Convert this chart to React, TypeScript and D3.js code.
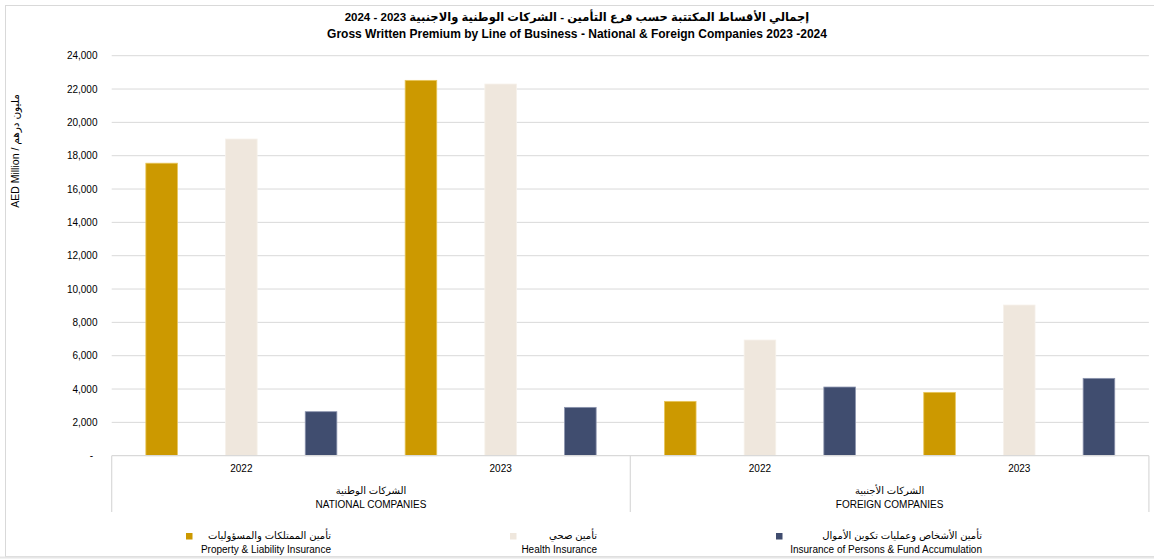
import React from "react";
import * as d3 from "d3";

const years = ["2022", "2023", "2022", "2023"];
const groupsAr = ["الشركات الوطنية", "الشركات الأجنبية"];
const groupsEn = ["NATIONAL COMPANIES", "FOREIGN COMPANIES"];
const seriesKeys = ["property", "health", "persons"];
const seriesAr = ["تأمين الممتلكات والمسؤوليات", "تأمين صحي", "تأمين الأشخاص وعمليات تكوين الأموال"];
const seriesEn = ["Property & Liability Insurance", "Health Insurance", "Insurance of Persons & Fund Accumulation"];
const property = [17550, 22520, 3260, 3800];
const health = [19000, 22300, 6940, 9040];
const persons = [2640, 2900, 4120, 4640];
const yTicks = [0, 2000, 4000, 6000, 8000, 10000, 12000, 14000, 16000, 18000, 20000, 22000, 24000];

const colors = ["#CC9900", "#EFE7DD", "#404D6F"];
const strokes = ["#E8C65A", "#F6F1EA", "#8A93AD"];
const FONT = "'Liberation Sans', 'DejaVu Sans', Arial, sans-serif";

export default function App() {
  const W = 1154, H = 559;
  const left = 111.7, right = 1148.9, top = 55.7, bottom = 455.7;
  const seriesVals = [property, health, persons];
  const catIdx = years.map((_, i) => i);
  const x0 = d3.scaleBand<number>().domain(catIdx).range([left, right]).paddingInner(0).paddingOuter(0);
  const x1 = d3.scaleBand<number>().domain([0, 1, 2]).range([0, x0.bandwidth()]).paddingInner(0.6035).paddingOuter(0.4285);
  const y = d3.scaleLinear().domain([0, 24000]).range([bottom, top]);
  const fmt = d3.format(",");
  const legendRight = [331, 597, 982];

  return (
    <svg width={W} height={H} style={{ position: "absolute", left: 0, top: 0, background: "#fff" }} fontFamily={FONT}>
      <rect x={5.5} y={5.5} width={1160} height={551} fill="none" stroke="#d9d9d9" strokeWidth={1} />
      <line x1={0} x2={W} y1={557.5} y2={557.5} stroke="#e6e6e6" strokeWidth={2} />
      {/* Title */}
      <text x={577} y={21} textAnchor="middle" direction="rtl" fontSize={11.5} fontWeight="bold" fill="#000">
        إجمالي الأقساط المكتتبة حسب فرع التأمين - الشركات الوطنية والاجنبية  2023  - 2024
      </text>
      <text x={577} y={38} textAnchor="middle" fontSize={12} fontWeight="bold" fill="#000">
        Gross Written Premium by Line of Business - National &amp; Foreign Companies 2023 -2024
      </text>
      {/* Y axis title */}
      <text transform={`translate(19,151) rotate(-90)`} textAnchor="middle" fontSize={10.5} fill="#000">
        AED Million / مليون درهم
      </text>
      {/* grid & ticks */}
      {yTicks.map((t) => (
        <g key={t}>
          {t > 0 && <line x1={left} x2={right} y1={y(t)} y2={y(t)} stroke="#d9d9d9" strokeWidth={1} />}
          <text x={t === 0 ? 93 : 97.5} y={y(t) + 3.5} textAnchor="end" fontSize={10} fill="#000">
            {t === 0 ? "-" : fmt(t)}
          </text>
        </g>
      ))}
      {/* bars */}
      {seriesVals.map((vals, s) =>
        vals.map((v, i) => (
          <rect
            key={seriesKeys[s] + i}
            x={(x0(i) as number) + (x1(s) as number)}
            y={y(v)}
            width={x1.bandwidth()}
            height={bottom - y(v)}
            fill={colors[s]}
            stroke={strokes[s]}
            strokeWidth={0.8}
          />
        ))
      )}
      {/* category axis */}
      <line x1={left} x2={right} y1={bottom} y2={bottom} stroke="#d9d9d9" strokeWidth={1.2} />
      {[0, 2, 4].map((k) => {
        const xx = k < 4 ? (x0(k) as number) : right;
        return <line key={k} x1={xx} x2={xx} y1={bottom} y2={512} stroke="#d9d9d9" strokeWidth={1.2} />;
      })}
      {years.map((yr, i) => (
        <text key={i} x={(x0(i) as number) + x0.bandwidth() / 2} y={472} textAnchor="middle" fontSize={10} fill="#000">
          {yr}
        </text>
      ))}
      {groupsEn.map((g, gi) => {
        const cx = (x0(gi * 2) as number) + x0.bandwidth();
        return (
          <g key={g}>
            <text x={cx} y={494} textAnchor="middle" direction="rtl" fontSize={10} fill="#000">{groupsAr[gi]}</text>
            <text x={cx} y={508} textAnchor="middle" fontSize={10} fill="#000">{g}</text>
          </g>
        );
      })}
      {/* legend */}
      {seriesEn.map((name, s) => {
        const r = legendRight[s];
        const markerX = s === 0 ? 186 : s === 1 ? 510 : 776;
        return (
          <g key={name}>
            <rect x={markerX} y={533} width={6.5} height={6.5} fill={colors[s]} />
            <text x={r} y={539} textAnchor="start" direction="rtl" fontSize={10} fill="#000">{seriesAr[s]}</text>
            <text x={r} y={553} textAnchor="end" fontSize={10} fill="#000">{name}</text>
          </g>
        );
      })}
    </svg>
  );
}
